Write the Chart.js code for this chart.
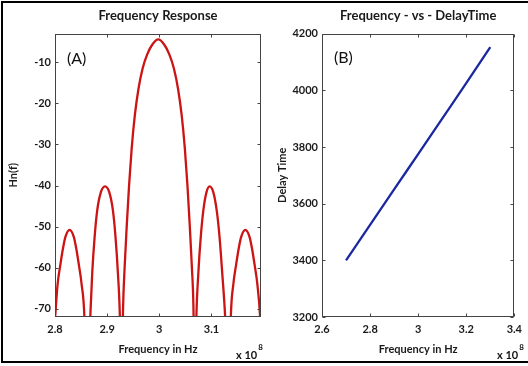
<!DOCTYPE html>
<html>
<head>
<meta charset="utf-8">
<script src="https://cdn.jsdelivr.net/npm/chart.js@4"></script>
<style>
  html, body { margin: 0; padding: 0; background: #fff; overflow: hidden; }
  body { width: 528px; height: 366px; position: relative; }
  .frame { position: absolute; left: 1px; top: 1px; width: 540px; height: 358px; border: 2px solid #000; }
  .panel { position: absolute; top: 0; }
</style>
</head>
<body>
<div class="frame"></div>
<div class="panel" style="left:0"><canvas id="chartA" width="270" height="366"></canvas></div>
<div class="panel" style="left:262px"><canvas id="chartB" width="266" height="366"></canvas></div>
<script>
// (A) frequency response, frequency in units of 1e8 Hz, response in dB
const freqA = [
  2.800, 2.805, 2.810, 2.815, 2.820, 2.828, 2.836, 2.841, 2.846, 2.851, 2.8565, 2.8605,
  2.8675, 2.8715, 2.876, 2.881, 2.888, 2.896, 2.904, 2.911, 2.916, 2.9205, 2.9245, 2.9275,
  2.9305, 2.9335, 2.9375, 2.942, 2.947, 2.953, 2.960, 2.968, 2.977, 2.987, 2.998,
  3.009, 3.019, 3.028, 3.036, 3.043, 3.049, 3.054, 3.0585, 3.0625, 3.0655, 3.068,
  3.071, 3.075, 3.0795, 3.0845, 3.0905, 3.0965, 3.1035, 3.110, 3.1155, 3.1205, 3.1265, 3.1335,
  3.137, 3.142, 3.147, 3.152, 3.157, 3.165, 3.173, 3.178, 3.183, 3.188, 3.1935, 3.197
];
const respA = [
  -72.5, -64, -59.5, -55.5, -52.5, -50.8, -52.5, -55.5, -59.5, -64, -72.5, -95,
  -72.5, -61, -52.5, -46, -41.6, -40.2, -41.6, -46, -52.5, -61, -72.5, -95,
  -70, -60, -50, -40, -31, -23, -16.5, -11.5, -8, -5.6, -4.4,
  -5.6, -8, -11.5, -16.5, -23, -31, -40, -50, -60, -70, -95,
  -72.5, -61, -52.5, -46, -41.6, -40.2, -41.6, -46, -52.5, -61, -72.5, -95,
  -72.5, -64, -59.5, -55.5, -52.5, -50.8, -52.5, -55.5, -59.5, -64, -72.5, -85
];

// (B) frequency vs delay time
const freqB = [2.7, 2.8, 2.9, 3.0, 3.1, 3.2, 3.3];
const delayB = [3400, 3525, 3650, 3775, 3900, 4025, 4152];

const fontFam = 'Lato, "Open Sans", sans-serif';
const ink = '#1a1a1a';

// MATLAB style box with inward ticks on all four sides
const boxPlugin = {
  id: 'box',
  afterDatasetsDraw(chart) {
    const a = chart.chartArea, ctx = chart.ctx;
    const L = Math.round(a.left) + 0.5, R = Math.round(a.right) - 0.5;
    const T = Math.round(a.top) + 0.5, B = Math.round(a.bottom) - 0.5;
    ctx.save();
    ctx.strokeStyle = '#444';
    ctx.lineWidth = 1;
    ctx.strokeRect(L, T, R - L, B - T);
    ctx.beginPath();
    chart.scales.x.ticks.forEach(t => {
      const px = Math.round(chart.scales.x.getPixelForValue(t.value)) + 0.5;
      ctx.moveTo(px, B); ctx.lineTo(px, B - 3);
      ctx.moveTo(px, T); ctx.lineTo(px, T + 3);
    });
    chart.scales.y.ticks.forEach(t => {
      const py = Math.round(chart.scales.y.getPixelForValue(t.value)) + 0.5;
      ctx.moveTo(L, py); ctx.lineTo(L + 3, py);
      ctx.moveTo(R, py); ctx.lineTo(R - 3, py);
    });
    ctx.stroke();
    ctx.restore();
  }
};

// panel letter and x 10^8 exponent
const notePlugin = {
  id: 'notes',
  afterDraw(chart, args, opts) {
    const ctx = chart.ctx, a = chart.chartArea;
    ctx.save();
    ctx.fillStyle = '#111';
    ctx.textBaseline = 'middle';
    ctx.textAlign = 'left';
    ctx.font = '16px ' + fontFam;
    ctx.fillText(opts.label, a.left + opts.labelDx, a.top + opts.labelDy);
    ctx.textBaseline = 'alphabetic';
    ctx.font = 'bold 11px ' + fontFam;
    ctx.fillText('x 10', opts.expX, 359);
    const w = ctx.measureText('x 10').width;
    ctx.font = 'bold 8px ' + fontFam;
    ctx.fillText('8', opts.expX + w + 1, 350);
    ctx.restore();
  }
};

function numLabel(v) { return String(+v.toFixed(2)); }

function makeChart(id, xs, ys, color, o) {
  return new Chart(document.getElementById(id), {
    type: 'line',
    data: {
      datasets: [{
        data: xs.map((x, i) => ({ x: x, y: ys[i] })),
        borderColor: color,
        borderWidth: 2.3,
        pointRadius: 0,
        cubicInterpolationMode: 'monotone',
        clip: 0
      }]
    },
    plugins: [boxPlugin, notePlugin],
    options: {
      responsive: false,
      animation: false,
      layout: { padding: { left: 0, right: o.padRight, top: 0, bottom: 0 } },
      plugins: {
        legend: { display: false },
        tooltip: { enabled: false },
        title: {
          display: true, text: o.title, fullSize: false, color: ink,
          font: { family: fontFam, size: 13, weight: 'bold' },
          padding: { top: 8, bottom: 10 }
        },
        notes: o.notes
      },
      scales: {
        x: {
          type: 'linear', min: o.xMin, max: o.xMax,
          afterFit: s => { s.height = 49; },
          grid: { display: false, drawTicks: false },
          border: { display: false },
          ticks: { stepSize: o.xStep, includeBounds: false, padding: 6, color: ink,
                   font: { family: fontFam, size: 11, weight: 'bold' }, callback: numLabel },
          title: { display: true, text: 'Frequency in Hz', color: ink,
                   font: { family: fontFam, size: 11, weight: 'bold' }, padding: { top: 0, bottom: 10 } }
        },
        y: {
          type: 'linear', min: o.yMin, max: o.yMax,
          afterFit: s => { s.width = o.yWidth; },
          grid: { display: false, drawTicks: false },
          border: { display: false },
          ticks: { stepSize: o.yStep, includeBounds: false, padding: 4, color: ink,
                   font: { family: fontFam, size: 11, weight: 'bold' }, callback: numLabel },
          title: { display: true, text: o.yTitle, color: ink,
                   font: { family: fontFam, size: 11, weight: 'bold' }, padding: { top: o.yTitlePad, bottom: 0 } }
        }
      }
    }
  });
}

makeChart('chartA', freqA, respA, '#cc1414', {
  title: 'Frequency Response', yTitle: 'Hn(f)',
  xMin: 2.8, xMax: 3.195, xStep: 0.1, yMin: -72, yMax: -3, yStep: 10,
  yWidth: 55, padRight: 9, yTitlePad: 7,
  notes: { label: '(A)', labelDx: 12, labelDy: 25, expX: 236 }
});

makeChart('chartB', freqB, delayB, '#1c28a0', {
  title: 'Frequency - vs - DelayTime', yTitle: 'Delay Time',
  xMin: 2.6, xMax: 3.4, xStep: 0.2, yMin: 3200, yMax: 4200, yStep: 200,
  yWidth: 60, padRight: 5, yTitlePad: 14,
  notes: { label: '(B)', labelDx: 12, labelDy: 24, expX: 235 }
});
</script>
</body>
</html>
